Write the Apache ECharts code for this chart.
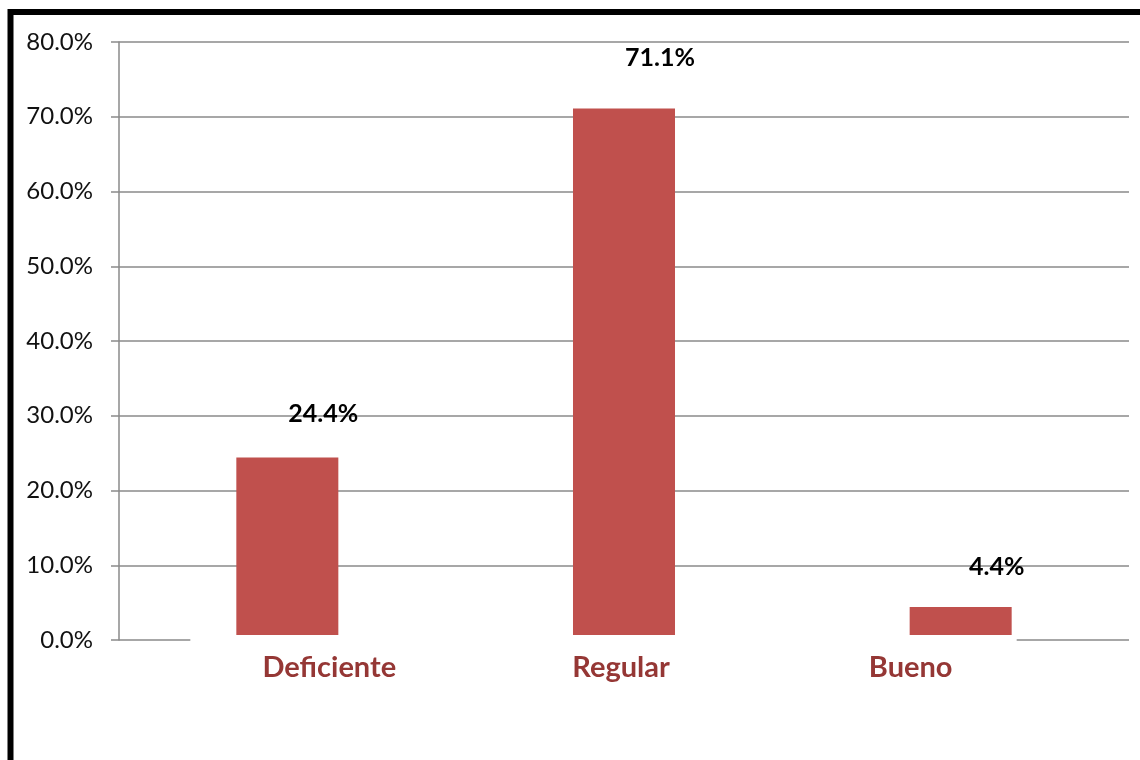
<!DOCTYPE html>
<html>
<head>
<meta charset="utf-8">
<script src="https://cdn.jsdelivr.net/npm/echarts@6/dist/echarts.min.js"></script>
<style>
  html, body { margin: 0; padding: 0; background: #fff; }
  #chart { width: 1140px; height: 760px; }
</style>
</head>
<body>
<div id="chart"></div>
<script>
// Categories and their percentages
const categories = ['Deficiente', 'Regular', 'Bueno'];
const percentages = [24.4, 71.1, 4.4];
const yTicks = [0, 10, 20, 30, 40, 50, 60, 70, 80];

// Horizontal nudges for the category captions (px)
const captionShift = [42, -3, -50];

const BAR_COLOR = '#C0504D';
const CAPTION_COLOR = '#953735';
const GRID_COLOR = '#8a8a8a';
const FONT = 'Lato, "Noto Sans", sans-serif';

const chart = echarts.init(document.getElementById('chart'), null, { renderer: 'canvas' });

const rich = {};
categories.forEach((c, i) => {
  const s = captionShift[i];
  rich['c' + i] = {
    color: CAPTION_COLOR,
    fontFamily: FONT,
    fontWeight: 'bold',
    fontSize: 29,
    padding: s >= 0 ? [0, 0, 0, 2 * s] : [0, -2 * s, 0, 0]
  };
});

const option = {
  backgroundColor: '#fff',
  animation: false,
  grid: { left: 119, right: 11, top: 42, bottom: 120, containLabel: false },
  xAxis: {
    type: 'category',
    data: categories,
    axisLine: { show: false },
    axisTick: { show: false },
    axisLabel: {
      margin: 13,
      formatter: (v, i) => '{c' + i + '|' + v + '}',
      rich: rich
    },
    splitLine: { show: false }
  },
  yAxis: {
    type: 'value',
    min: yTicks[0],
    max: yTicks[yTicks.length - 1],
    interval: 10,
    axisLine: { show: true, lineStyle: { color: GRID_COLOR, width: 1.5 } },
    axisTick: { show: true, length: 8, lineStyle: { color: GRID_COLOR, width: 1.5 } },
    axisLabel: {
      margin: 26,
      color: '#111',
      fontFamily: FONT,
      fontSize: 24,
      formatter: v => v.toFixed(1) + '%'
    },
    splitLine: { show: true, showMinLine: false, lineStyle: { color: GRID_COLOR, width: 1.5 } }
  },
  series: [{
    type: 'custom',
    data: percentages.map((v, i) => [i, v]),
    encode: { x: 0, y: 1 },
    renderItem: function (params, api) {
      const idx = api.value(0);
      const val = api.value(1);
      const top = api.coord([idx, val]);
      const base = api.coord([idx, 0]);
      const band = api.size([1, 0])[0];
      const w = band * 0.303;
      const cx = top[0];
      // value label sits above and to the right, rising a little with taller bars
      const lift = 39.5 + 0.16 * val;
      return {
        type: 'group',
        children: [
          {
            type: 'rect',
            shape: { x: cx - w / 2, y: top[1], width: w, height: base[1] - 5 - top[1] },
            style: { fill: BAR_COLOR }
          },
          {
            type: 'text',
            x: cx + 36,
            y: top[1] - lift,
            style: {
              text: val.toFixed(1) + '%',
              fill: '#000',
              font: 'bold 25px ' + FONT,
              align: 'center',
              verticalAlign: 'middle'
            }
          }
        ]
      };
    }
  }]
};

chart.setOption(option);

// Frame around the chart and the visible pieces of the baseline
function drawDecor() {
  const left = chart.convertToPixel({ gridIndex: 0 }, [0, 0]);
  const right = chart.convertToPixel({ gridIndex: 0 }, [2, 0]);
  const gridRight = 1140 - 11;
  chart.setOption({
    graphic: [
      {
        type: 'rect',
        shape: { x: 10.5, y: 12, width: 1200, height: 900 },
        style: { fill: 'none', stroke: '#000', lineWidth: 6 },
        silent: true
      },
      {
        type: 'line',
        shape: { x1: 119, y1: left[1], x2: left[0] - 97, y2: left[1] },
        style: { stroke: GRID_COLOR, lineWidth: 1.5 },
        silent: true
      },
      {
        type: 'line',
        shape: { x1: right[0] + 56, y1: right[1], x2: gridRight, y2: right[1] },
        style: { stroke: GRID_COLOR, lineWidth: 1.5 },
        silent: true
      }
    ]
  });
}
drawDecor();
</script>
</body>
</html>
